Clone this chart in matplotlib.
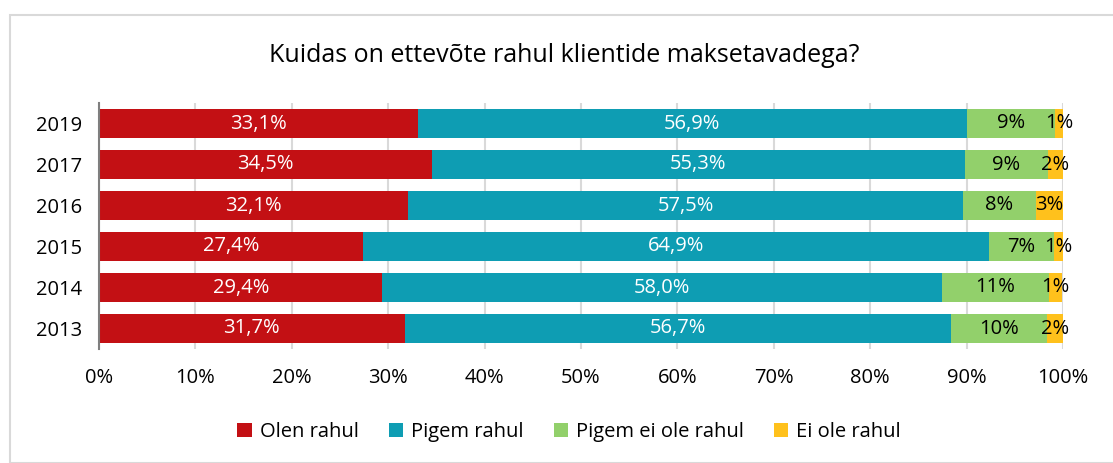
import matplotlib
matplotlib.use("Agg")
import matplotlib.pyplot as plt
from matplotlib.patches import Rectangle, Patch

plt.rcParams["font.family"] = ["Open Sans", "DejaVu Sans"]

years = ["2019", "2017", "2016", "2015", "2014", "2013"]
series = ["Olen rahul", "Pigem rahul", "Pigem ei ole rahul", "Ei ole rahul"]
olen = [33.1, 34.5, 32.1, 27.4, 29.4, 31.7]
pigem = [56.9, 55.3, 57.5, 64.9, 58.0, 56.7]
pigem_ei = [9.2, 8.6, 7.6, 6.8, 11.1, 9.9]
ei_ole = [0.8, 1.6, 2.8, 0.9, 1.4, 1.7]

colors = ["#C31014", "#0E9DB3", "#92D06B", "#FFC11C"]
text_colors = ["white", "white", "black", "black"]
decimals = [1, 1, 0, 0]

W, H = 1113, 463
fig = plt.figure(figsize=(W / 100, H / 100), dpi=100)

# chart frame
fig.patches.append(Rectangle((10 / W, 0), 1.2, 1 - 15 / H, transform=fig.transFigure,
                             fill=False, edgecolor="#D9D9D9", linewidth=1.5))

ax = fig.add_axes([99 / W, 1 - 349 / H, (1063 - 99) / W, (349 - 103) / H])

ypos = list(range(len(years)))[::-1]
left = [0.0] * len(years)
for vals, col, tc, dec in zip([olen, pigem, pigem_ei, ei_ole], colors, text_colors, decimals):
    ax.barh(ypos, vals, left=left, height=0.73, color=col, zorder=3)
    for y, l, v in zip(ypos, left, vals):
        lab = f"{v:.{dec}f}%".replace(".", ",")
        ax.text(l + v / 2, y, lab, ha="center", va="center", color=tc,
                fontsize=14.5, zorder=4)
    left = [a + b for a, b in zip(left, vals)]

ax.set_xlim(0, 100)
ax.set_ylim(-0.5, len(years) - 0.5)
ax.set_xticks(range(0, 101, 10))
ax.set_xticklabels([f"{t}%" for t in range(0, 101, 10)], fontsize=14.5)
ax.set_yticks(ypos)
ax.set_yticklabels(years, fontsize=14.5)
ax.tick_params(axis="x", length=0, pad=14)
ax.tick_params(axis="y", length=0, pad=12)
ax.grid(axis="x", color="#D9D9D9", linewidth=1.5, zorder=0)
for s in ["top", "right", "bottom"]:
    ax.spines[s].set_visible(False)
ax.spines["left"].set_color("#7F7F7F")
ax.spines["left"].set_linewidth(1.5)
ax.spines["left"].set_zorder(5)

fig.text(564 / W, 1 - 55 / H, "Kuidas on ettevõte rahul klientide maksetavadega?",
         ha="center", va="center", fontsize=18)

handles = [Patch(facecolor=c, label=s) for c, s in zip(colors, series)]
fig.legend(handles=handles, loc="center", bbox_to_anchor=(569 / W, 1 - 432 / H),
           ncol=4, frameon=False, fontsize=14.5, handlelength=0.7, handleheight=0.7,
           handletextpad=0.4, columnspacing=1.5)

plt.savefig("out.png", dpi=100)
plt.close()
